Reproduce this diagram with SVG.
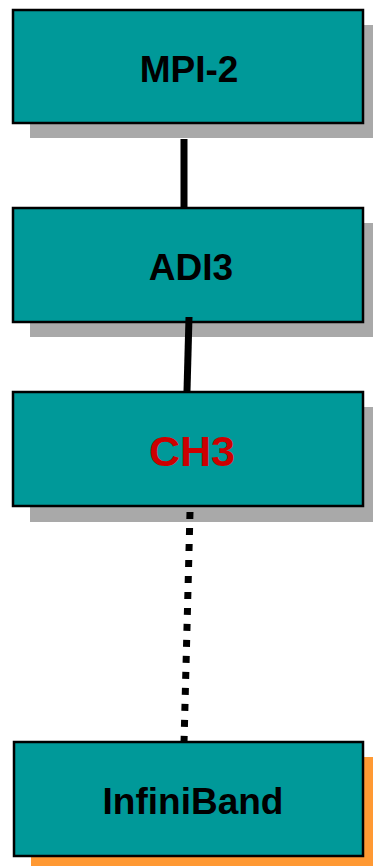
<svg xmlns="http://www.w3.org/2000/svg" width="373" height="866" viewBox="0 0 373 866">
  <style>
    .box { fill: #009999; stroke: #000; stroke-width: 2.5; }
    .shadow { fill: #A9A9A9; }
    .shadow-ib { fill: #FF9933; }
    .label { font-family: "Liberation Sans", Arial, sans-serif; font-weight: bold; font-size: 37px; text-anchor: middle; fill: #000; }
    .red { fill: #CC0000; font-size: 43px; }
    .link { stroke: #000; stroke-width: 7; fill: none; }
    .dotted { stroke-dasharray: 7 9; }
  </style>

  <g id="mpi2">
    <rect class="shadow" x="30" y="25" width="350" height="113"/>
    <rect class="box" x="13" y="10" width="350" height="113"/>
    <text class="label" x="189" y="82">MPI-2</text>
  </g>

  <g id="adi3">
    <rect class="shadow" x="30" y="223" width="350" height="114"/>
    <rect class="box" x="13" y="208" width="350" height="114"/>
    <text class="label" x="191" y="280">ADI3</text>
  </g>

  <g id="ch3">
    <rect class="shadow" x="30" y="407" width="350" height="115"/>
    <rect class="box" x="13" y="392" width="350" height="114"/>
    <text class="label red" x="192" y="466">CH3</text>
  </g>

  <g id="infiniband">
    <rect class="shadow-ib" x="31" y="757" width="350" height="109"/>
    <rect class="box" x="14" y="742" width="349" height="114"/>
    <text class="label" x="193" y="814">InfiniBand</text>
  </g>

  <!-- connectors sit on top of the boxes and their shadows -->
  <g id="connectors">
    <line class="link" x1="184" y1="139" x2="184" y2="208"/>
    <line class="link" x1="189" y1="317" x2="187" y2="391"/>
    <line class="link dotted" x1="190" y1="512" x2="184" y2="743"/>
  </g>
</svg>
